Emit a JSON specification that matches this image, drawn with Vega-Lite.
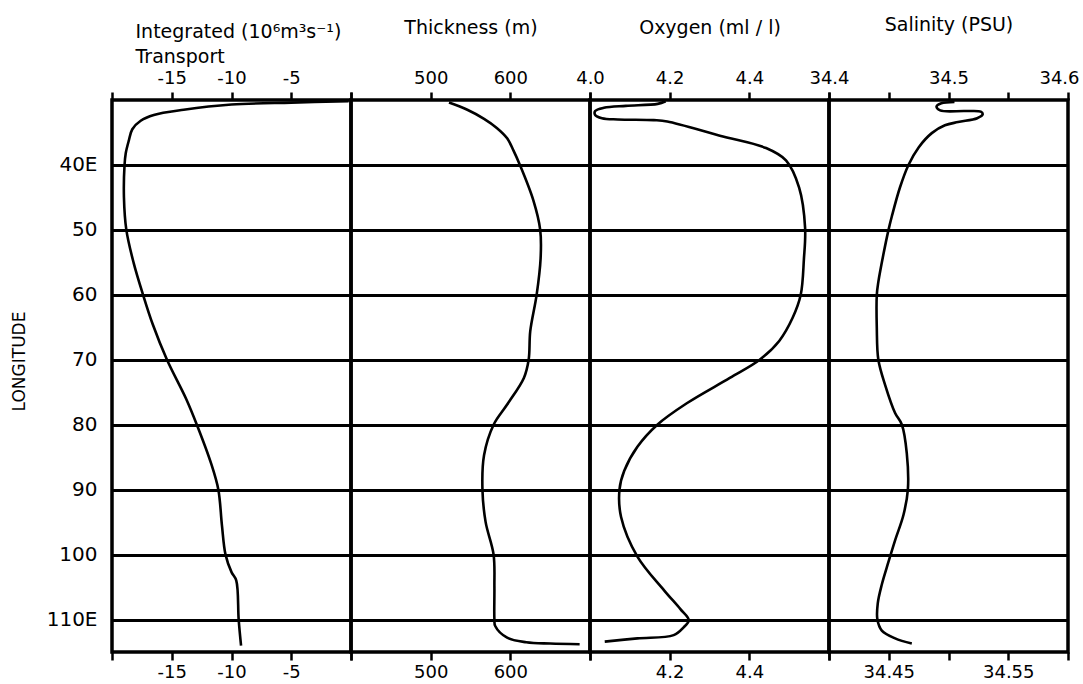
{
  "$schema": "https://vega.github.io/schema/vega-lite/v6.json",
  "background": "white",
  "padding": {"left": 8, "top": 13, "right": 0, "bottom": 0},
  "spacing": 0,
  "bounds": "flush",
  "config": {
    "view": {"stroke": "black", "strokeWidth": 3.5},
    "axis": {
      "labelFont": "DejaVu Sans", "titleFont": "DejaVu Sans",
      "labelColor": "black", "titleColor": "black", "tickColor": "black",
      "domain": false, "grid": false, "titleFontWeight": "normal",
      "labelFontSize": 18, "titleFontSize": 19, "tickWidth": 2.5,
      "labelFlush": false, "labelOverlap": false, "labelBound": false
    },
    "line": {"color": "black", "strokeWidth": 2.6, "interpolate": "catmull-rom"}
  },
  "datasets": {
    "transport": [
      {"lon": 30.2, "value": -0.2}, {"lon": 30.4, "value": -5}, {"lon": 30.7, "value": -10},
      {"lon": 31.5, "value": -14}, {"lon": 32.3, "value": -16.5}, {"lon": 33.2, "value": -17.6},
      {"lon": 34.5, "value": -18.3}, {"lon": 36.3, "value": -18.6}, {"lon": 38.2, "value": -18.85},
      {"lon": 40, "value": -18.95}, {"lon": 45, "value": -19.0}, {"lon": 50, "value": -18.8},
      {"lon": 55, "value": -18.2}, {"lon": 60, "value": -17.4}, {"lon": 64.5, "value": -16.6},
      {"lon": 70, "value": -15.4}, {"lon": 76, "value": -13.8}, {"lon": 80, "value": -12.9},
      {"lon": 86, "value": -11.7}, {"lon": 90, "value": -11.1}, {"lon": 95.5, "value": -10.8},
      {"lon": 100, "value": -10.5}, {"lon": 102.7, "value": -10.0}, {"lon": 104, "value": -9.6},
      {"lon": 110, "value": -9.4}, {"lon": 114, "value": -9.2}
    ],
    "thickness": [
      {"lon": 30.4, "value": 523}, {"lon": 31.5, "value": 546}, {"lon": 32.9, "value": 567},
      {"lon": 34.3, "value": 583}, {"lon": 35.9, "value": 596}, {"lon": 37.8, "value": 604},
      {"lon": 40, "value": 612}, {"lon": 45.5, "value": 629}, {"lon": 50, "value": 637.5},
      {"lon": 54.4, "value": 638}, {"lon": 60, "value": 633}, {"lon": 65.6, "value": 625},
      {"lon": 70, "value": 623}, {"lon": 72.8, "value": 617}, {"lon": 76.9, "value": 596},
      {"lon": 80, "value": 579}, {"lon": 84.7, "value": 567}, {"lon": 90, "value": 565},
      {"lon": 95, "value": 569}, {"lon": 100, "value": 579}, {"lon": 105, "value": 580},
      {"lon": 110, "value": 580}, {"lon": 111, "value": 581}, {"lon": 112.8, "value": 596},
      {"lon": 113.5, "value": 620}, {"lon": 113.7, "value": 650}, {"lon": 113.8, "value": 687}
    ],
    "oxygen": [
      {"lon": 30.2, "value": 4.19}, {"lon": 30.6, "value": 4.17}, {"lon": 30.9, "value": 4.09},
      {"lon": 31.2, "value": 4.035}, {"lon": 31.7, "value": 4.013}, {"lon": 32.3, "value": 4.013},
      {"lon": 32.8, "value": 4.03}, {"lon": 33.0, "value": 4.07}, {"lon": 33.1, "value": 4.16},
      {"lon": 33.3, "value": 4.194}, {"lon": 35.5, "value": 4.326}, {"lon": 37.4, "value": 4.442},
      {"lon": 39.3, "value": 4.492}, {"lon": 43.5, "value": 4.525}, {"lon": 49.7, "value": 4.54},
      {"lon": 54.5, "value": 4.537}, {"lon": 60, "value": 4.529}, {"lon": 63.5, "value": 4.509},
      {"lon": 67.1, "value": 4.475}, {"lon": 70, "value": 4.426}, {"lon": 72.8, "value": 4.351},
      {"lon": 76.7, "value": 4.243}, {"lon": 80, "value": 4.169}, {"lon": 83.4, "value": 4.119},
      {"lon": 87.1, "value": 4.086}, {"lon": 90, "value": 4.074}, {"lon": 94.2, "value": 4.078},
      {"lon": 100.3, "value": 4.119}, {"lon": 105.5, "value": 4.186}, {"lon": 108.4, "value": 4.227},
      {"lon": 110.1, "value": 4.248}, {"lon": 111.2, "value": 4.235}, {"lon": 112.4, "value": 4.21},
      {"lon": 112.9, "value": 4.119}, {"lon": 113.4, "value": 4.037}
    ],
    "salinity": [
      {"lon": 30.3, "value": 34.505}, {"lon": 30.5, "value": 34.494}, {"lon": 31.0, "value": 34.49},
      {"lon": 31.6, "value": 34.493}, {"lon": 31.7, "value": 34.514}, {"lon": 31.8, "value": 34.527},
      {"lon": 32.2, "value": 34.5286}, {"lon": 32.8, "value": 34.524}, {"lon": 33.4, "value": 34.508},
      {"lon": 33.9, "value": 34.497}, {"lon": 35.1, "value": 34.486}, {"lon": 37.3, "value": 34.475},
      {"lon": 40, "value": 34.4665}, {"lon": 43.4, "value": 34.4595}, {"lon": 47.9, "value": 34.4526},
      {"lon": 50, "value": 34.4498}, {"lon": 53.8, "value": 34.4455}, {"lon": 58.0, "value": 34.4413},
      {"lon": 60, "value": 34.44}, {"lon": 65.1, "value": 34.44}, {"lon": 70, "value": 34.4413},
      {"lon": 73.9, "value": 34.447}, {"lon": 78.2, "value": 34.4553}, {"lon": 80, "value": 34.461},
      {"lon": 84.4, "value": 34.4651}, {"lon": 90, "value": 34.466}, {"lon": 93.9, "value": 34.4623},
      {"lon": 97.8, "value": 34.4553}, {"lon": 101.1, "value": 34.4498}, {"lon": 104.6, "value": 34.4442},
      {"lon": 107.5, "value": 34.4408}, {"lon": 110, "value": 34.4405}, {"lon": 111.7, "value": 34.4442},
      {"lon": 112.9, "value": 34.4553}, {"lon": 113.7, "value": 34.4693}
    ]
  },
  "hconcat": [
    {
      "width": 239, "height": 552,
      "data": {"name": "transport"},
      "resolve": {"axis": {"x": "independent", "y": "independent"}},
      "layer": [
        {
          "mark": {"type": "line"},
          "encoding": {
            "x": {"field": "value", "type": "quantitative", "scale": {"domain": [-20, 0], "nice": false, "zero": false},
              "axis": {"orient": "bottom", "values": [-20, -15, -10, -5, 0], "tickSize": 8, "labelPadding": 3, "title": null,
                "labelExpr": "datum.value == -20 || datum.value == 0 ? '' : '' + datum.value"}},
            "y": {"field": "lon", "type": "quantitative", "scale": {"domain": [30, 115], "nice": false, "zero": false, "reverse": true},
              "axis": {"values": [40, 50, 60, 70, 80, 90, 100, 110], "grid": true, "gridColor": "black", "gridWidth": 2.8, "gridOpacity": 1,
                "ticks": false, "tickSize": 0, "labelPadding": 15, "labelFontSize": 20,
                "labelExpr": "datum.value == 40 || datum.value == 110 ? datum.value + 'E' : datum.label",
                "title": "LONGITUDE", "titleFontSize": 17, "titleX": -93, "titleY": 261, "titleAngle": 270,
                "titleAlign": "center", "titleBaseline": "middle"}},
            "order": {"field": "lon", "type": "quantitative"}
          }
        },
        {
          "mark": {"type": "line", "strokeOpacity": 0},
          "encoding": {
            "x": {"field": "value", "type": "quantitative",
              "axis": {"orient": "top", "values": [-20, -15, -10, -5, 0], "tickSize": 8, "labelPadding": 5,
                "labelExpr": "datum.value == -20 || datum.value == 0 ? '' : '' + datum.value",
                "title": ["Integrated (10⁶m³s⁻¹)", "Transport"], "titleX": 23, "titleY": -78, "titleAlign": "left",
                "titleBaseline": "top", "titleLineHeight": 25}},
            "y": {"field": "lon", "type": "quantitative", "axis": null},
            "order": {"field": "lon", "type": "quantitative"}
          }
        }
      ]
    },
    {
      "width": 239, "height": 552,
      "data": {"name": "thickness"},
      "resolve": {"axis": {"x": "independent", "y": "independent"}},
      "layer": [
        {
          "mark": {"type": "line"},
          "encoding": {
            "x": {"field": "value", "type": "quantitative", "scale": {"domain": [400, 700], "nice": false, "zero": false},
              "axis": {"orient": "bottom", "values": [400, 500, 600, 700], "tickSize": 8, "labelPadding": 3, "title": null,
                "labelExpr": "datum.value == 400 || datum.value == 700 ? '' : datum.label"}},
            "y": {"field": "lon", "type": "quantitative", "scale": {"domain": [30, 115], "nice": false, "zero": false, "reverse": true},
              "axis": {"values": [40, 50, 60, 70, 80, 90, 100, 110], "grid": true, "gridColor": "black", "gridWidth": 2.8, "gridOpacity": 1,
                "ticks": false, "labels": false, "title": null}},
            "order": {"field": "lon", "type": "quantitative"}
          }
        },
        {
          "mark": {"type": "line", "strokeOpacity": 0},
          "encoding": {
            "x": {"field": "value", "type": "quantitative",
              "axis": {"orient": "top", "values": [400, 500, 600, 700], "tickSize": 8, "labelPadding": 5,
                "labelExpr": "datum.value == 400 || datum.value == 700 ? '' : datum.label",
                "title": "Thickness (m)", "titleX": 119.5, "titleY": -82, "titleAlign": "center", "titleBaseline": "top"}},
            "y": {"field": "lon", "type": "quantitative", "axis": null},
            "order": {"field": "lon", "type": "quantitative"}
          }
        }
      ]
    },
    {
      "width": 239, "height": 552,
      "data": {"name": "oxygen"},
      "resolve": {"axis": {"x": "independent", "y": "independent"}},
      "layer": [
        {
          "mark": {"type": "line"},
          "encoding": {
            "x": {"field": "value", "type": "quantitative", "scale": {"domain": [4.0, 4.6], "nice": false, "zero": false},
              "axis": {"orient": "bottom", "values": [4.0, 4.2, 4.4, 4.6], "tickSize": 8, "labelPadding": 3, "title": null,
                "labelExpr": "datum.value < 4.1 || datum.value > 4.5 ? '' : format(datum.value, '.1f')"}},
            "y": {"field": "lon", "type": "quantitative", "scale": {"domain": [30, 115], "nice": false, "zero": false, "reverse": true},
              "axis": {"values": [40, 50, 60, 70, 80, 90, 100, 110], "grid": true, "gridColor": "black", "gridWidth": 2.8, "gridOpacity": 1,
                "ticks": false, "labels": false, "title": null}},
            "order": {"field": "lon", "type": "quantitative"}
          }
        },
        {
          "mark": {"type": "line", "strokeOpacity": 0},
          "encoding": {
            "x": {"field": "value", "type": "quantitative",
              "axis": {"orient": "top", "values": [4.0, 4.2, 4.4, 4.6], "tickSize": 8, "labelPadding": 5,
                "labelExpr": "datum.value > 4.5 ? '' : format(datum.value, '.1f')",
                "title": "Oxygen (ml / l)", "titleX": 119.5, "titleY": -82, "titleAlign": "center", "titleBaseline": "top"}},
            "y": {"field": "lon", "type": "quantitative", "axis": null},
            "order": {"field": "lon", "type": "quantitative"}
          }
        }
      ]
    },
    {
      "width": 239, "height": 552,
      "data": {"name": "salinity"},
      "resolve": {"axis": {"x": "independent", "y": "independent"}},
      "layer": [
        {
          "mark": {"type": "line"},
          "encoding": {
            "x": {"field": "value", "type": "quantitative", "scale": {"domain": [34.4, 34.6], "nice": false, "zero": false},
              "axis": {"orient": "bottom", "values": [34.4, 34.45, 34.5, 34.55, 34.6], "tickSize": 8, "labelPadding": 3, "title": null,
                "labelExpr": "(datum.value > 34.44 && datum.value < 34.46) || (datum.value > 34.54 && datum.value < 34.56) ? format(datum.value, '.2f') : ''"}},
            "y": {"field": "lon", "type": "quantitative", "scale": {"domain": [30, 115], "nice": false, "zero": false, "reverse": true},
              "axis": {"values": [40, 50, 60, 70, 80, 90, 100, 110], "grid": true, "gridColor": "black", "gridWidth": 2.8, "gridOpacity": 1,
                "ticks": false, "labels": false, "title": null}},
            "order": {"field": "lon", "type": "quantitative"}
          }
        },
        {
          "mark": {"type": "line", "strokeOpacity": 0},
          "encoding": {
            "x": {"field": "value", "type": "quantitative",
              "axis": {"orient": "top", "values": [34.4, 34.45, 34.5, 34.55, 34.6], "tickSize": 8, "labelPadding": 5,
                "labelOffset": {"condition": {"test": "datum.value > 34.58", "value": -9}, "value": 0},
                "labelExpr": "datum.value < 34.42 || (datum.value > 34.48 && datum.value < 34.52) || datum.value > 34.58 ? format(datum.value, '.1f') : ''",
                "title": "Salinity (PSU)", "titleX": 119.5, "titleY": -85, "titleAlign": "center", "titleBaseline": "top"}},
            "y": {"field": "lon", "type": "quantitative", "axis": null},
            "order": {"field": "lon", "type": "quantitative"}
          }
        }
      ]
    }
  ]
}
